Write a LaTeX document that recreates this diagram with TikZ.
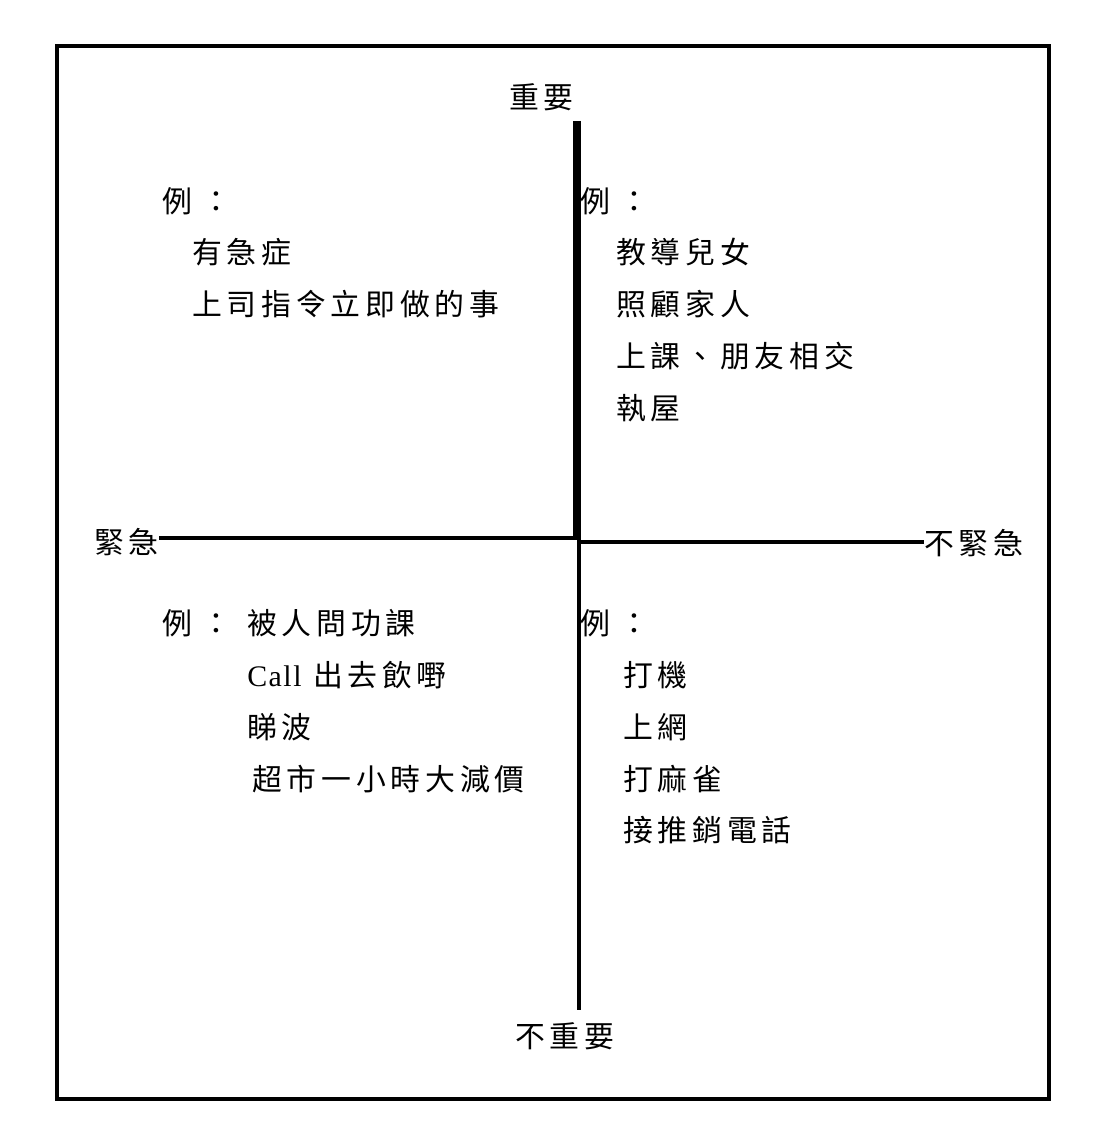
\documentclass[tikz,border=0pt]{standalone}
\usepackage{fontspec}
\setmainfont[LetterSpace=5]{Liberation Serif}
\newfontfamily\cjk[LetterSpace=16]{Noto Sans CJK TC}
\usetikzlibrary{positioning}
\newcommand\exco{例\hspace{5pt}：}
\tikzset{
  axislbl/.style={font=\fontsize{17}{20}\selectfont\cjk, inner sep=0pt, anchor=west},
  exlbl/.style  ={font=\fontsize{17}{20}\selectfont\cjk, inner sep=0pt, anchor=west},
  frameln/.style={line width=2.3pt},
  axisln/.style ={line width=2.3pt},
  boldln/.style ={line width=4.5pt},
}
\begin{document}
\begin{tikzpicture}[x=0.02cm,y=-0.02cm]
  \useasboundingbox (0,0) rectangle (1112,1141);
  \draw[frameln] (57,46) rectangle (1049,1099);
  %% axis labels
  \node[axislbl] (imp)   at (509,97)   {重要};
  \node[axislbl] (unimp) at (515,1036) {不重要};
  \node[axislbl] (urg)   at (94,542)   {緊急};
  \node[axislbl] (nurg)  at (924,543)  {不緊急};
  %% axes
  \coordinate (ttop) at (577,121);
  \coordinate (tbot) at (577,540);
  \coordinate (lend) at (577,538);
  \coordinate (bbeg) at (579,540);
  \coordinate (bend) at (579,1010);
  \coordinate (rbeg) at (579,542);
  \draw[boldln] (ttop) -- (tbot);
  \draw[axisln] (urg.east |- lend) -- (lend);
  \draw[axisln] (bbeg) -- (bend);
  \draw[axisln] (rbeg) -- (nurg.west |- rbeg);
  %% upper left
  \node[exlbl] (ul0) at (162,201) {\exco};
  \node[exlbl] (ul1) at (192,252) {有急症};
  \node[exlbl] (ul2) at (192,304) {上司指令立即做的事};
  %% upper right
  \node[exlbl] (ur0) at (580,201) {\exco};
  \node[exlbl] (ur1) at (616,252) {教導兒女};
  \node[exlbl] (ur2) at (616,304) {照顧家人};
  \node[exlbl] (ur3) at (616,356) {上課、朋友相交};
  \node[exlbl] (ur4) at (616,408) {執屋};
  %% lower left
  \node[exlbl] (ll0) at (162,623) {\exco};
  \node[exlbl] (ll1) at (247,623) {被人問功課};
  \node[exlbl] (ll2) at (247,675) {{\rmfamily Call} 出去飲嘢};
  \node[exlbl] (ll3) at (247,727) {睇波};
  \node[exlbl] (ll4) at (252,779) {超市一小時大減價};
  %% lower right
  \node[exlbl] (lr0) at (580,623) {\exco};
  \node[exlbl] (lr1) at (623,675) {打機};
  \node[exlbl] (lr2) at (623,727) {上網};
  \node[exlbl] (lr3) at (623,779) {打麻雀};
  \node[exlbl] (lr4) at (623,830) {接推銷電話};
\end{tikzpicture}
\end{document}
